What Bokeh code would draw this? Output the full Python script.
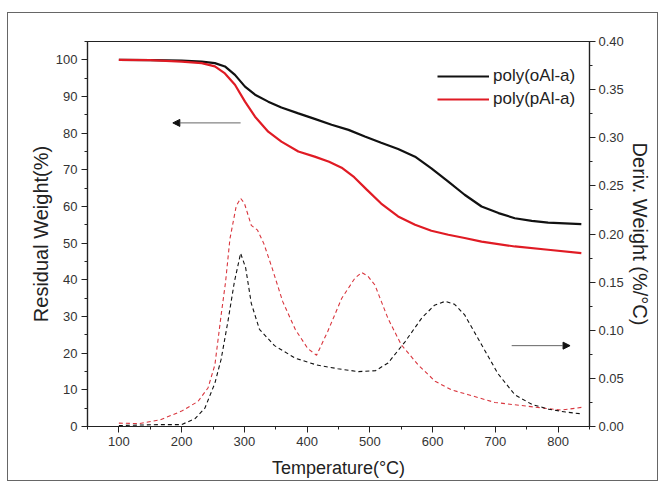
from bokeh.plotting import figure
from bokeh.models import (Range1d, LinearAxis, SingleIntervalTicker, NumeralTickFormatter,
                          Legend, LegendItem, Arrow, NormalHead)
from bokeh.embed import file_html
from bokeh.resources import INLINE

# ---- data ----
tga_o_T = [100, 150, 200, 232, 253, 269, 285, 301, 317, 338, 359, 386, 412, 439, 466, 492, 518, 545, 572, 598,
           625, 651, 678, 705, 731, 758, 784, 837]
tga_o_W = [100, 99.9, 99.8, 99.5, 99.1, 98.2, 95.9, 92.7, 90.5, 88.6, 87.0, 85.4, 83.9, 82.3, 80.9, 79.1, 77.4,
           75.7, 73.6, 70.4, 66.8, 63.2, 60.0, 58.2, 56.8, 56.1, 55.6, 55.2]

tga_p_T = [100, 150, 200, 232, 253, 269, 285, 301, 317, 338, 359, 386, 412, 435, 455, 475, 495, 518, 545, 572,
           598, 625, 651, 678, 731, 784, 837]
tga_p_W = [100, 99.9, 99.5, 99.1, 98.2, 96.3, 93.2, 88.6, 84.5, 80.4, 77.7, 75.0, 73.6, 72.2, 70.6, 68.0, 64.6,
           60.8, 57.3, 55.0, 53.4, 52.3, 51.4, 50.4, 49.1, 48.2, 47.3]

dtg_p_T = [100, 132, 166, 200, 226, 242, 253, 263, 270, 277, 287, 294, 300, 311, 321, 331, 344, 361, 381, 401,
           415, 433, 455, 476, 487, 497, 508, 529, 550, 577, 604, 630, 657, 699, 752, 805, 839]
dtg_p_D = [0.0035, 0.003, 0.007, 0.016, 0.026, 0.040, 0.064, 0.116, 0.150, 0.195, 0.229, 0.237, 0.232, 0.209,
           0.204, 0.190, 0.165, 0.130, 0.101, 0.081, 0.074, 0.099, 0.133, 0.154, 0.160, 0.156, 0.147, 0.112,
           0.085, 0.064, 0.047, 0.038, 0.033, 0.025, 0.021, 0.017, 0.020]

dtg_o_T = [100, 166, 200, 221, 237, 253, 263, 274, 284, 294, 302, 311, 324, 348, 381, 415, 449, 482, 509, 529,
           556, 583, 603, 620, 635, 651, 678, 704, 731, 758, 785, 812, 839]
dtg_o_D = [0.001, 0.002, 0.002, 0.008, 0.019, 0.045, 0.070, 0.110, 0.150, 0.180, 0.165, 0.128, 0.101, 0.084,
           0.071, 0.064, 0.060, 0.057, 0.058, 0.066, 0.088, 0.113, 0.126, 0.130, 0.127, 0.116, 0.085, 0.055,
           0.033, 0.023, 0.018, 0.015, 0.013]

series_labels = ["poly(oAl-a)", "poly(pAl-a)"]
x_title = "Temperature(°C)"
y_title = "Residual Weight(%)"
y2_title = "Deriv. Weight (%/°C)"

# arrow annotations (data coordinates)
arrow_left = dict(x0=294, x1=186, y=82.8)
arrow_right = dict(x0=726, x1=819, y=0.084)

BLACK = "#111111"
RED = "#e01b24"
RED_D = "#d9363e"
FONT = "Liberation Sans"

p = figure(width=651, height=469, output_backend="svg", toolbar_location=None,
           x_range=Range1d(50, 850), y_range=Range1d(0, 105),
           min_border_left=79, min_border_right=70, min_border_top=28, min_border_bottom=56)
p.margin = (12, 0, 0, 7)
p.styles = {"border": "1px solid #666"}
p.extra_y_ranges = {"deriv": Range1d(0, 0.40)}
p.grid.visible = False
p.outline_line_color = "#222222"
p.outline_line_width = 1.2
p.background_fill_color = "white"
p.border_fill_color = "white"

r1 = p.line(tga_o_T, tga_o_W, line_color=BLACK, line_width=2.2)
r2 = p.line(tga_p_T, tga_p_W, line_color=RED, line_width=2.2)
p.line(dtg_p_T, dtg_p_D, y_range_name="deriv", line_color=RED_D, line_width=1.1, line_dash="4 3")
p.line(dtg_o_T, dtg_o_D, y_range_name="deriv", line_color=BLACK, line_width=1.1, line_dash="4 3")

yax2 = LinearAxis(y_range_name="deriv")
p.add_layout(yax2, "right")

xax = p.xaxis[0]
yax = p.yaxis[0]
xax.ticker = SingleIntervalTicker(interval=100, num_minor_ticks=2)
yax.ticker = SingleIntervalTicker(interval=10, num_minor_ticks=2)
yax2.ticker = SingleIntervalTicker(interval=0.05, num_minor_ticks=2)
yax2.formatter = NumeralTickFormatter(format="0.00")

xax.axis_label = x_title
yax.axis_label = y_title
yax2.axis_label = y2_title

for ax in (xax, yax, yax2):
    ax.axis_line_color = "#222222"
    ax.axis_line_width = 1.2
    ax.major_tick_in = 0
    ax.major_tick_out = 6
    ax.minor_tick_in = 0
    ax.minor_tick_out = 3
    ax.major_tick_line_color = "#222222"
    ax.minor_tick_line_color = "#222222"
    ax.major_label_text_font = FONT
    ax.major_label_text_font_size = "13px"
    ax.major_label_text_color = "#333333"
    ax.axis_label_text_font = FONT
    ax.axis_label_text_font_size = "18px"
    ax.axis_label_text_font_style = "normal"
    ax.axis_label_text_color = "#222222"
    ax.major_label_standoff = 4
    ax.axis_label_standoff = 9

yax.axis_label_text_font_size = "20px"
yax2.axis_label_text_font_size = "20px"
yax.axis_label_standoff = 1
yax2.axis_label_standoff = 2
yax2.major_label_standoff = 3

p.add_layout(Arrow(end=NormalHead(size=7, fill_color="#111", line_color="#111"),
                   x_start=arrow_left["x0"], y_start=arrow_left["y"],
                   x_end=arrow_left["x1"], y_end=arrow_left["y"],
                   line_color="#666666", line_width=1))
p.add_layout(Arrow(end=NormalHead(size=7, fill_color="#111", line_color="#111"),
                   x_start=arrow_right["x0"], y_start=arrow_right["y"],
                   x_end=arrow_right["x1"], y_end=arrow_right["y"],
                   y_range_name="deriv", line_color="#666666", line_width=1))

legend = Legend(items=[LegendItem(label=series_labels[0], renderers=[r1]),
                       LegendItem(label=series_labels[1], renderers=[r2])],
                location=(350, 317))
legend.border_line_color = None
legend.background_fill_alpha = 0
legend.label_text_font = FONT
legend.label_text_font_size = "17px"
legend.label_text_color = "#222222"
legend.glyph_width = 52
legend.glyph_height = 20
legend.label_height = 20
legend.spacing = 3
legend.padding = 5
legend.label_standoff = 4
legend.margin = 0
p.add_layout(legend)

open("out.html", "w").write(file_html(p, INLINE))
